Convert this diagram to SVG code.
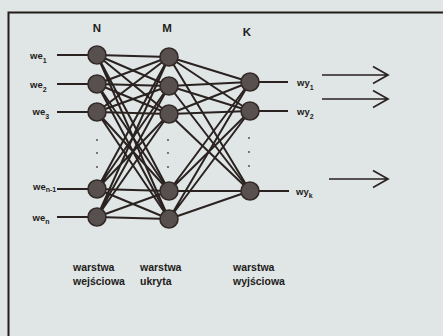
<svg xmlns="http://www.w3.org/2000/svg" width="443" height="336" viewBox="0 0 443 336">
  <style>
    .bg { fill: #dfe6e5; }
    .frame { fill: none; stroke: #231c1a; stroke-width: 2; }
    .edge { stroke: #2a2220; stroke-width: 2; fill: none; stroke-linecap: round; }
    .io { stroke: #2a2220; stroke-width: 2; fill: none; }
    .arrow { stroke: #2a2220; stroke-width: 1.7; fill: none; stroke-linejoin: miter; }
    .neuron { fill: #58504e; stroke: #332a28; stroke-width: 1.6; }
    .dot { fill: #4a4240; }
    .head { font-family: "Liberation Sans", Arial, sans-serif; font-weight: bold; font-size: 11.5px; fill: #231c1a; text-anchor: middle; }
    .lbl { font-family: "Liberation Sans", Arial, sans-serif; font-weight: bold; font-size: 9.5px; fill: #231c1a; }
    .sub { font-size: 7px; }
    .layer { font-family: "Liberation Sans", Arial, sans-serif; font-weight: bold; font-size: 10.5px; fill: #231c1a; }
  </style>

  <rect class="bg" x="0" y="0" width="443" height="336"/>
  <path class="frame" d="M8.5,340 V12.5 H450"/>

  <!-- layer headings -->
  <text class="head" x="97" y="32">N</text>
  <text class="head" x="167" y="32">M</text>
  <text class="head" x="247" y="36">K</text>

  <!-- weights between layers -->
  <g id="connectors">
    <!-- N to M, fully connected -->
    <path class="edge" d="M97,55 L169,57 M97,55 L169,86 M97,55 L169,114 M97,55 L169,191 M97,55 L169,219"/>
    <path class="edge" d="M97,84 L169,57 M97,84 L169,86 M97,84 L169,114 M97,84 L169,191 M97,84 L169,219"/>
    <path class="edge" d="M97,112 L169,57 M97,112 L169,86 M97,112 L169,114 M97,112 L169,191 M97,112 L169,219"/>
    <path class="edge" d="M97,189 L169,57 M97,189 L169,86 M97,189 L169,114 M97,189 L169,191 M97,189 L169,219"/>
    <path class="edge" d="M97,217 L169,57 M97,217 L169,86 M97,217 L169,114 M97,217 L169,191 M97,217 L169,219"/>
    <!-- M to K, fully connected -->
    <path class="edge" d="M169,57 L250,82 M169,57 L250,111 M169,57 L250,191"/>
    <path class="edge" d="M169,86 L250,82 M169,86 L250,111 M169,86 L250,191"/>
    <path class="edge" d="M169,114 L250,82 M169,114 L250,111 M169,114 L250,191"/>
    <path class="edge" d="M169,191 L250,82 M169,191 L250,111 M169,191 L250,191"/>
    <path class="edge" d="M169,219 L250,82 M169,219 L250,111 M169,219 L250,191"/>
    <!-- input leads -->
    <path class="io" d="M57,55 H97 M57,84 H97 M57,112 H97 M57,189 H97 M57,217 H97"/>
    <!-- output leads -->
    <path class="io" d="M250,82 H288 M250,111 H288 M250,191 H289"/>
    <!-- output arrows -->
    <path class="arrow" d="M322,75 H388 M373,66.5 L388,75 L373,83.5"/>
    <path class="arrow" d="M322,99 H388 M373,90.5 L388,99 L373,107.5"/>
    <path class="arrow" d="M329,179 H388 M373,170.5 L388,179 L373,187.5"/>
  </g>

  <!-- ellipsis dots -->
  <g id="dots">
    <circle class="dot" cx="97" cy="140" r="0.9"/>
    <circle class="dot" cx="97" cy="153" r="0.9"/>
    <circle class="dot" cx="97" cy="167" r="0.9"/>
    <circle class="dot" cx="168" cy="140" r="0.9"/>
    <circle class="dot" cx="168" cy="153" r="0.9"/>
    <circle class="dot" cx="168" cy="167" r="0.9"/>
    <circle class="dot" cx="249" cy="138" r="0.9"/>
    <circle class="dot" cx="249" cy="152" r="0.9"/>
    <circle class="dot" cx="249" cy="166" r="0.9"/>
  </g>

  <!-- input layer -->
  <g id="n1"><circle class="neuron" cx="97" cy="55" r="9"/></g>
  <g id="n2"><circle class="neuron" cx="97" cy="84" r="9"/></g>
  <g id="n3"><circle class="neuron" cx="97" cy="112" r="9"/></g>
  <g id="n4"><circle class="neuron" cx="97" cy="189" r="9"/></g>
  <g id="n5"><circle class="neuron" cx="97" cy="217" r="9"/></g>

  <!-- hidden layer -->
  <g id="m1"><circle class="neuron" cx="169" cy="57" r="9"/></g>
  <g id="m2"><circle class="neuron" cx="169" cy="86" r="9"/></g>
  <g id="m3"><circle class="neuron" cx="169" cy="114" r="9"/></g>
  <g id="m4"><circle class="neuron" cx="169" cy="191" r="9"/></g>
  <g id="m5"><circle class="neuron" cx="169" cy="219" r="9"/></g>

  <!-- output layer -->
  <g id="k1"><circle class="neuron" cx="250" cy="82" r="9"/></g>
  <g id="k2"><circle class="neuron" cx="250" cy="111" r="9"/></g>
  <g id="k3"><circle class="neuron" cx="250" cy="191" r="9"/></g>

  <!-- input labels -->
  <g id="inputs">
    <text class="lbl" x="30" y="59">we<tspan class="sub" dy="4">1</tspan></text>
    <text class="lbl" x="30" y="88">we<tspan class="sub" dy="4">2</tspan></text>
    <text class="lbl" x="32.5" y="115">we<tspan class="sub" dy="4">3</tspan></text>
    <text class="lbl" x="33" y="190">we<tspan class="sub" dy="2">n-1</tspan></text>
    <text class="lbl" x="32.5" y="221">we<tspan class="sub" dy="3">n</tspan></text>
  </g>

  <!-- output labels -->
  <g id="outputs">
    <text class="lbl" x="297" y="86">wy<tspan class="sub" dy="4">1</tspan></text>
    <text class="lbl" x="297" y="115">wy<tspan class="sub" dy="4">2</tspan></text>
    <text class="lbl" x="296" y="195">wy<tspan class="sub" dy="3">k</tspan></text>
  </g>

  <!-- layer names -->
  <g id="layer-names">
    <text class="layer" x="73" y="271">warstwa</text>
    <text class="layer" x="73" y="285">wejściowa</text>
    <text class="layer" x="140" y="271">warstwa</text>
    <text class="layer" x="140" y="285">ukryta</text>
    <text class="layer" x="233" y="271">warstwa</text>
    <text class="layer" x="233" y="285">wyjściowa</text>
  </g>
</svg>
